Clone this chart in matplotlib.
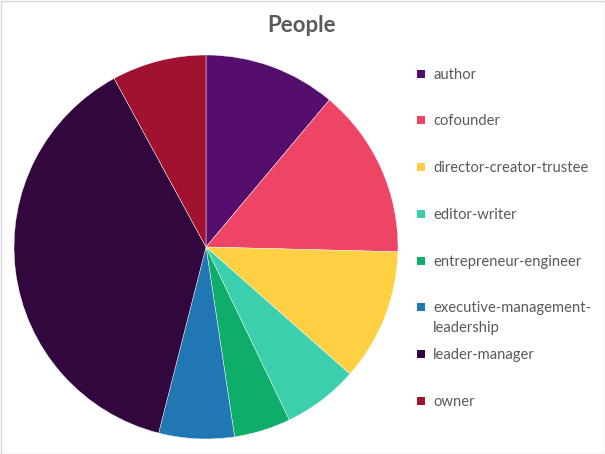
import matplotlib
matplotlib.use('Agg')
import matplotlib.pyplot as plt
from matplotlib.patches import Rectangle

# 数据 (按图中扇区角度估读)
labels = ['author', 'cofounder', 'director-creator-trustee', 'editor-writer',
          'entrepreneur-engineer', 'executive-management-\nleadership',
          'leader-manager', 'owner']
counts = [7, 9, 7, 4, 3, 4, 24, 5]
colors = ['#550E6C', '#EE4567', '#FFD142', '#3CCFAE',
          '#0EAE6A', '#2176B4', '#32073E', '#A11230']

plt.rcParams['font.family'] = ['Lato', 'DejaVu Sans']

fig = plt.figure(figsize=(6.05, 4.54), dpi=100)
W, H = 605, 454

# 饼图区域: 中心 (206, 247) px, 半径 192 px
cx, cy, r = 206, 247, 192
ax = fig.add_axes([(cx - r) / W, (H - cy - r) / H, 2 * r / W, 2 * r / H])
ax.pie(counts, colors=colors, startangle=90, counterclock=False,
       wedgeprops=dict(edgecolor='white', linewidth=0.3))
ax.set_xlim(-1, 1)
ax.set_ylim(-1, 1)
ax.set_aspect('equal')
ax.axis('off')

fig.text(302 / W, 1 - 25 / H, 'People', ha='center', va='center',
         fontsize=16, fontweight='bold', color='#595959')

# 图例 (手动排布)
rows_y = [74, 120, 167, 214, 261, 307, 354, 401]
for lab, col, y in zip(labels, colors, rows_y):
    fig.patches.append(Rectangle(((421 - 4) / W, 1 - (y + 4) / H), 8 / W, 8 / H,
                                 facecolor=col, edgecolor='none',
                                 transform=fig.transFigure))
    fig.text(433 / W, 1 - (y - 6) / H, lab, ha='left', va='top',
             fontsize=10.6, color='#595959', linespacing=1.55)

# 外框
fig.patches.append(Rectangle((0.5 / W, 0.5 / H), 1 - 1 / W, 1 - 1 / H, fill=False,
                             edgecolor='#D9D9D9', linewidth=1,
                             transform=fig.transFigure))

fig.savefig('out.png', dpi=100)
